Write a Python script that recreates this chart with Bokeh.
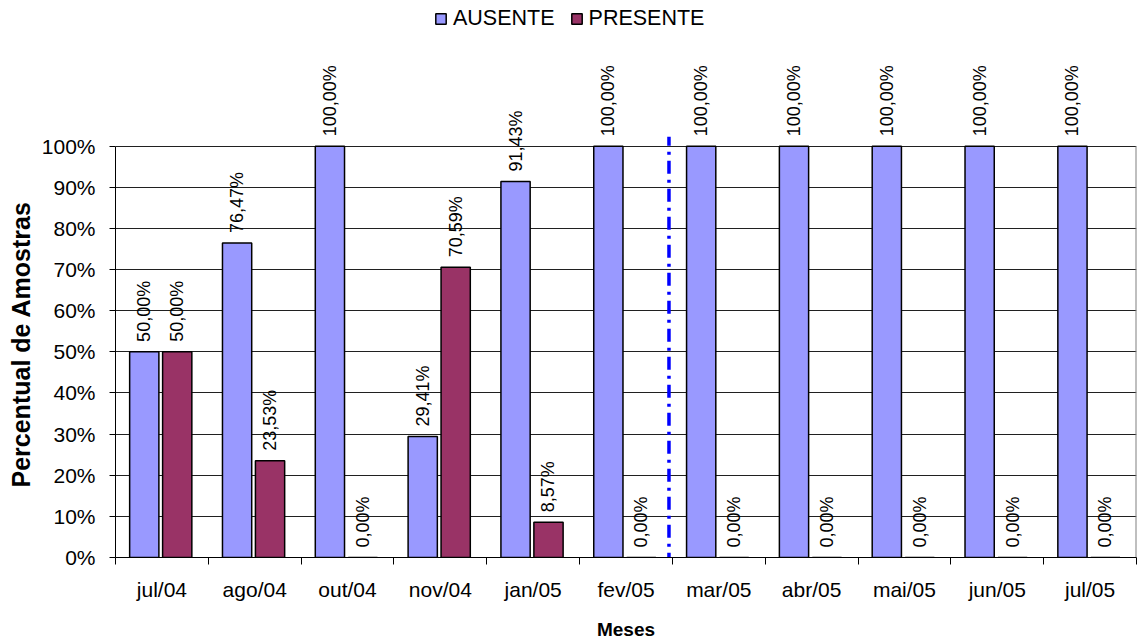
from math import pi

from bokeh.core.properties import value
from bokeh.embed import file_html
from bokeh.resources import INLINE
from bokeh.plotting import figure
from bokeh.models import (ColumnDataSource, Range1d, FixedTicker, LabelSet,
                          Legend, LegendItem, Title)

# Monthly share of samples (percent)
months = ["jul/04", "ago/04", "out/04", "nov/04", "jan/05", "fev/05",
          "mar/05", "abr/05", "mai/05", "jun/05", "jul/05"]
ausente = [50.00, 76.47, 100.00, 29.41, 91.43, 100.00,
           100.00, 100.00, 100.00, 100.00, 100.00]
presente = [50.00, 23.53, 0.00, 70.59, 8.57, 0.00,
            0.00, 0.00, 0.00, 0.00, 0.00]
y_ticks = [0, 10, 20, 30, 40, 50, 60, 70, 80, 90, 100]

# Layout / style constants
FONT = "Liberation Sans"
BAR_W = 0.315
OFF_A = 0.31      # bar centres within each month slot
OFF_P = 0.665
DIVIDER_X = 5.963
PLOT_H_PX = 412   # height of the 0..100 % band in pixels
TOP_PX = 146      # free space above the 100 % line (labels, legend)
Y_MAX = 100 * (PLOT_H_PX + TOP_PX) / PLOT_H_PX

n = len(months)
idx = list(range(n))


def fmt(v):
    return f"{v:.2f}".replace(".", ",") + "%"


src_a = ColumnDataSource(dict(x=[i + OFF_A for i in idx], top=ausente,
                              lbl=[fmt(v) for v in ausente]))
src_p = ColumnDataSource(dict(x=[i + OFF_P for i in idx], top=presente,
                              lbl=[fmt(v) for v in presente]))

p = figure(width=1138, height=642, output_backend="svg", toolbar_location=None,
           x_range=Range1d(0, n), y_range=Range1d(0, Y_MAX),
           min_border_left=114, min_border_right=2,
           min_border_top=0, min_border_bottom=84)
p.background_fill_color = "white"
p.border_fill_color = "white"
p.outline_line_color = None

# Gridlines
p.xgrid.visible = False
p.ygrid.grid_line_color = "#202020"
p.ygrid.grid_line_width = 1
p.ygrid.ticker = FixedTicker(ticks=y_ticks)

# Y axis
p.yaxis.ticker = FixedTicker(ticks=y_ticks)
p.yaxis.bounds = (0, 100)
p.yaxis.major_label_overrides = {t: f"{t}%" for t in y_ticks}
p.yaxis.axis_line_color = "black"
p.yaxis.axis_line_width = 1
p.yaxis.major_tick_line_color = "black"
p.yaxis.major_tick_out = 6
p.yaxis.major_tick_in = 0
p.yaxis.minor_tick_line_color = None
p.yaxis.major_label_text_font = FONT
p.yaxis.major_label_text_font_size = "21px"
p.yaxis.major_label_text_color = "black"
p.yaxis.major_label_standoff = 14

# Y axis title, starting a little above the 0 % line
p.add_layout(Title(text="Percentual de Amostras", align="left",
                   offset=70, standoff=8,
                   text_font=FONT, text_font_size="25px",
                   text_font_style="bold", text_color="black"), "left")

# X axis: labels at slot centres, tick marks on slot boundaries
centres = [i + 0.5 for i in idx]
p.xaxis.ticker = FixedTicker(ticks=centres, minor_ticks=list(range(n + 1)))
p.xaxis.major_label_overrides = {c: m for c, m in zip(centres, months)}
p.xaxis.major_tick_line_color = None
p.xaxis.minor_tick_line_color = "black"
p.xaxis.minor_tick_out = 7
p.xaxis.minor_tick_in = 0
p.xaxis.axis_line_color = "black"
p.xaxis.major_label_text_font = FONT
p.xaxis.major_label_text_font_size = "21px"
p.xaxis.major_label_text_color = "black"
p.xaxis.major_label_standoff = 13
p.xaxis.axis_label = "Meses"
p.xaxis.axis_label_text_font = FONT
p.xaxis.axis_label_text_font_size = "19px"
p.xaxis.axis_label_text_font_style = "bold"
p.xaxis.axis_label_text_color = "black"
p.xaxis.axis_label_standoff = 15

# Right border of the plot area
p.segment(x0=[n], y0=[0], x1=[n], y1=[100], line_color="#808080",
          line_width=2)

# Bars
ra = p.vbar(x="x", top="top", bottom=0, width=BAR_W, source=src_a,
            fill_color="#9999FF", line_color="black", line_width=1.5)
rp = p.vbar(x="x", top="top", bottom=0, width=BAR_W, source=src_p,
            fill_color="#993366", line_color="black", line_width=1.5)

# Vertical divider
p.segment(x0=[DIVIDER_X], y0=[-2], x1=[DIVIDER_X], y1=[102.3],
          line_color="#0000FF", line_width=3.5, line_dash="13 6 3 6")

# Value labels above the bars
for src in (src_a, src_p):
    p.add_layout(LabelSet(x="x", y="top", text="lbl", source=src,
                          angle=pi / 2, text_align="left",
                          text_baseline="middle", y_offset=10,
                          text_font=value(FONT), text_font_size="18px",
                          text_color="black"))

legend = Legend(items=[LegendItem(label="AUSENTE", renderers=[ra]),
                       LegendItem(label="PRESENTE", renderers=[rp])],
                orientation="horizontal", location=(319, 526),
                glyph_width=13, glyph_height=13, label_standoff=6,
                spacing=15, padding=0, margin=0,
                label_text_font=FONT, label_text_font_size="21.5px",
                label_text_color="black",
                border_line_color=None, background_fill_alpha=0)
p.add_layout(legend, "center")

open("out.html", "w").write(file_html(p, INLINE))
